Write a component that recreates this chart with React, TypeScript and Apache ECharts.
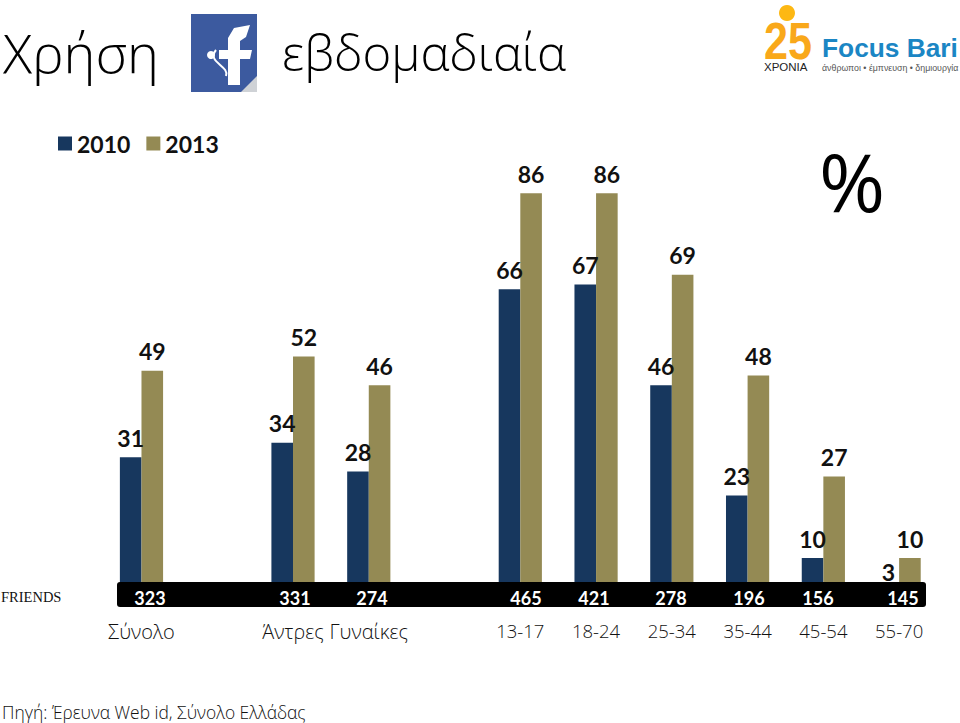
import React, { useEffect, useRef } from "react";
import * as echarts from "echarts";

const categories = ["Σύνολο", "", "Άντρες", "Γυναίκες", "", "13-17", "18-24", "25-34", "35-44", "45-54", "55-70"];
const values2010 = [31, null, 34, 28, null, 66, 67, 46, 23, 10, 3];
const values2013 = [49, null, 52, 46, null, 86, 86, 69, 48, 27, 10];
const friendsCounts = ["323", "331", "274", "465", "421", "278", "196", "156", "145"];
const friendsCountX = [150, 295, 372, 526, 594, 671, 749, 818, 903];

const NAVY = "#17375e";
const OLIVE = "#948a54";
const SANS = "'Open Sans', 'Noto Sans', sans-serif";
const BOLD = "Lato, 'Open Sans', sans-serif";
const ARIAL = "'Liberation Sans', sans-serif";

function txt(text: string, x: number, y: number, size: number, fill: string, extra: any = {}, el: any = {}) {
  return {
    type: "text", x, y, z: 20, ...el,
    style: { text, fontSize: size, fill, fontFamily: SANS, textVerticalAlign: "middle", ...extra },
  };
}

export default function App() {
  const ref = useRef<HTMLDivElement>(null);
  useEffect(() => {
    const chart = echarts.init(ref.current!, undefined, { renderer: "svg" });
    const label = {
      show: true, position: "top", distance: 8, color: "#111111",
      fontSize: 23, fontWeight: "bold", fontFamily: BOLD,
    };
    chart.setOption({
      animation: false,
      backgroundColor: "#ffffff",
      grid: { left: 103.6, right: 23, top: 126, bottom: 117 },
      legend: {
        left: 53, top: 127, itemWidth: 14, itemHeight: 14, itemGap: 16,
        icon: "rect",
        textStyle: { fontSize: 23, fontWeight: "bold", color: "#111111", fontFamily: BOLD },
        data: ["2010", "2013"],
      },
      xAxis: {
        type: "category", data: categories,
        axisLine: { show: false }, axisTick: { show: false },
        axisLabel: {
          interval: 0, margin: 15, fontSize: 20, color: "#111111", fontFamily: SANS, fontWeight: 300,
          formatter: (v: string) => (/\d/.test(v) ? `{age|${v}}` : v),
          rich: { age: { fontSize: 18.5, color: "#111111", fontFamily: SANS, fontWeight: 300 } },
        },
      },
      yAxis: { type: "value", min: 0, max: 100, show: false },
      series: [
        { name: "2010", type: "bar", data: values2010, barWidth: 21.6, barGap: 0, itemStyle: { color: NAVY }, label },
        { name: "2013", type: "bar", data: values2013, barWidth: 21.6, barGap: 0, itemStyle: { color: OLIVE }, label },
      ],
      graphic: [
        { type: "rect", z: 15, shape: { x: 117, y: 582, width: 809, height: 25, r: 3 }, style: { fill: "#000000" } },
        ...friendsCounts.map((t, i) =>
          txt(t, friendsCountX[i], 598, 18, "#ffffff", { textAlign: "center", fontWeight: "bold", fontFamily: BOLD })),
        txt("FRIENDS", 1, 597, 14.5, "#111111", { fontFamily: "'Liberation Serif', serif" }),
        txt("Χρήση", 3, 52, 54, "#000000", { fontWeight: 300 }),
        txt("εβδομαδιαία", 282, 52, 49, "#000000", { fontWeight: 300 }),
        txt("%", 852, 180, 80, "#000000", { textAlign: "center", fontWeight: 400 }),
        txt("Πηγή: Έρευνα Web id, Σύνολο Ελλάδας", 2, 712, 17.4, "#111111", { fontWeight: 300 }),
        // facebook badge
        { type: "rect", z: 15, shape: { x: 191, y: 14, width: 66, height: 78 }, style: { fill: "#3c5a9f" } },
        { type: "polygon", z: 16, shape: { points: [[257, 76], [257, 92], [241, 92]] }, style: { fill: "#cfd2d6" } },
        { type: "polygon", z: 16, shape: { points: [[228, 85], [228, 59], [219, 59], [219, 50], [228, 50], [228, 38], [234, 28], [250, 25], [246, 37], [240, 41], [240, 50], [252, 50], [250, 59], [240, 59], [240, 85]] }, style: { fill: "#ffffff" } },
        { type: "circle", z: 16, shape: { cx: 211, cy: 55, r: 4 }, style: { fill: "#ffffff" } },
        { type: "bezierCurve", z: 16, shape: { x1: 216, y1: 50, x2: 226, y2: 76, cpx1: 206, cpy1: 62, cpx2: 230, cpy2: 66 }, style: { stroke: "#ffffff", fill: "none", lineWidth: 2 } },
        // 25 logo and Focus Bari wordmark
        { type: "circle", z: 15, shape: { cx: 787, cy: 13, r: 8 }, style: { fill: "#fdb813" } },
        txt("25", 764, 41, 52, "#f9a81a", { fontWeight: "bold", fontFamily: ARIAL }, { scaleX: 0.83 }),
        txt("ΧΡΟΝΙΑ", 764, 67, 11.5, "#222222", { fontFamily: ARIAL }),
        txt("Focus Bari", 822, 47.5, 26.3, "#1b86c4", { fontWeight: "bold", fontFamily: ARIAL }),
        txt("άνθρωποι • έμπνευση • δημιουργία", 822, 68, 8.8, "#555555", { fontFamily: ARIAL }),
      ],
    });
    return () => chart.dispose();
  }, []);
  return <div ref={ref} style={{ width: 960, height: 723, position: "fixed", left: 0, top: 0 }} />;
}
